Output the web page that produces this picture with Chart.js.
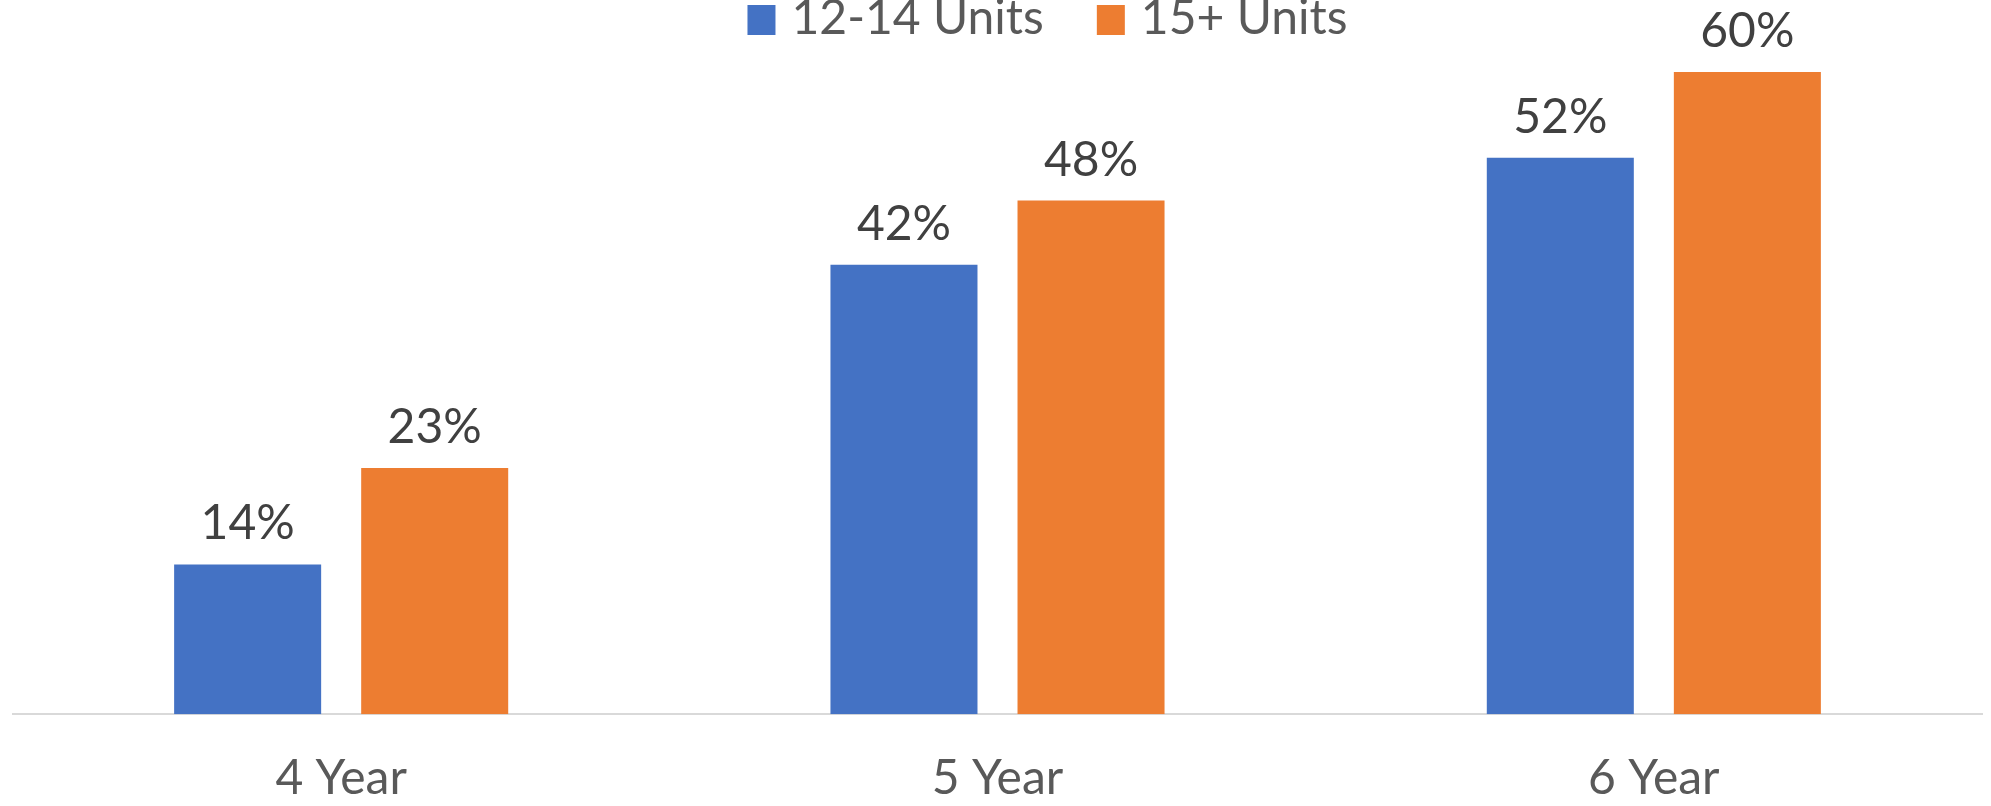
<!DOCTYPE html>
<html>
<head>
<meta charset="utf-8">
<script src="https://cdn.jsdelivr.net/npm/chart.js@4/dist/chart.umd.min.js"></script>
<style>
  html, body { margin: 0; padding: 0; background: #fff; overflow: hidden; }
  #wrap { position: absolute; left: 0; top: 0; width: 1991px; height: 843px; }
</style>
</head>
<body>
<div id="wrap"><canvas id="chart"></canvas></div>
<script>
// data
const categories = ['4 Year', '5 Year', '6 Year'];
const seriesNames = ['12-14 Units', '15+ Units'];
const units1214 = [14, 42, 52];
const units15 = [23, 48, 60];
const seriesColors = ['#4472C4', '#ED7D31'];

const FONT = 'Lato, "Open Sans", sans-serif';

// value labels above each bar
const valueLabels = {
    id: 'valueLabels',
    afterDatasetsDraw(chart) {
        const ctx = chart.ctx;
        ctx.save();
        ctx.font = '48px ' + FONT;
        ctx.fillStyle = '#404040';
        ctx.textAlign = 'center';
        ctx.textBaseline = 'alphabetic';
        chart.data.datasets.forEach((ds, i) => {
            chart.getDatasetMeta(i).data.forEach((bar, j) => {
                ctx.fillText(ds.data[j] + '%', bar.x, bar.y - 25);
            });
        });
        ctx.restore();
    }
};

// legend drawn by hand so the spacing matches
const topLegend = {
    id: 'topLegend',
    afterDraw(chart) {
        const ctx = chart.ctx;
        const box = 28, textGap = 16, itemGap = 53;
        ctx.save();
        ctx.font = '48px ' + FONT;
        const widths = chart.data.datasets.map(ds => box + textGap + ctx.measureText(ds.label).width);
        const total = widths.reduce((a, b) => a + b, 0) + itemGap * (widths.length - 1);
        let x = (chart.width - total) / 2 + 52;
        const midY = 19;
        chart.data.datasets.forEach((ds, i) => {
            ctx.fillStyle = ds.backgroundColor;
            ctx.fillRect(x, midY - box / 2, box, box + 2);
            ctx.fillStyle = '#595959';
            ctx.textAlign = 'left';
            ctx.textBaseline = 'alphabetic';
            ctx.fillText(ds.label, x + box + textGap, 34);
            x += widths[i] + itemGap;
        });
        ctx.restore();
    }
};

new Chart(document.getElementById('chart'), {
    type: 'bar',
    data: {
        labels: categories,
        datasets: [
            { label: seriesNames[0], data: units1214, backgroundColor: seriesColors[0] },
            { label: seriesNames[1], data: units15, backgroundColor: seriesColors[1] }
        ]
    },
    options: {
        responsive: true,
        maintainAspectRatio: false,
        animation: false,
        layout: { padding: { top: 40, left: 13, right: 9, bottom: 0 } },
        categoryPercentage: 0.57,
        barPercentage: 0.786,
        plugins: {
            legend: { display: false },
            tooltip: { enabled: false }
        },
        scales: {
            x: {
                grid: { display: false, drawTicks: false },
                border: { display: true, color: '#D9D9D9', width: 2 },
                ticks: {
                    color: '#595959',
                    font: { family: FONT, size: 48, lineHeight: 1.1 },
                    padding: 38
                }
            },
            y: {
                display: false,
                min: 0,
                max: 63
            }
        }
    },
    plugins: [valueLabels, topLegend]
});
</script>
</body>
</html>
